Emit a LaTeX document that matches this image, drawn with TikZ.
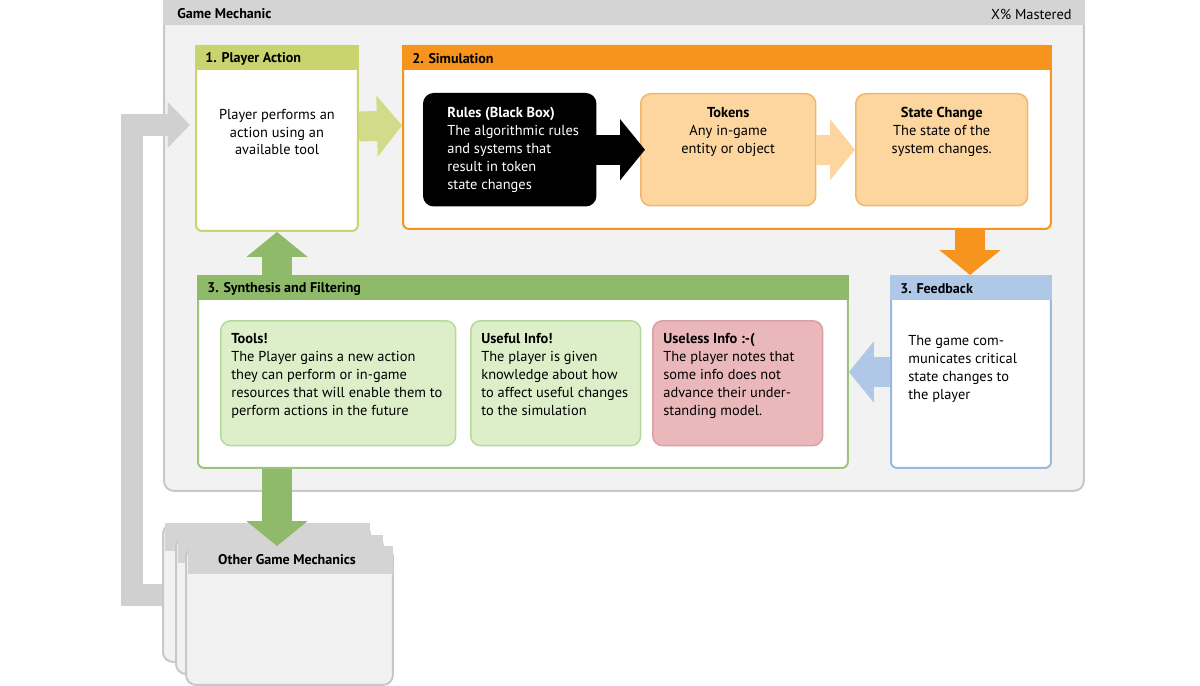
\documentclass[tikz,border=0pt]{standalone}
\usepackage{fontspec}
\setmainfont{PT Sans}
\usetikzlibrary{arrows.meta,positioning}
\definecolor{olive}{HTML}{C9D46F}
\definecolor{oliveArr}{HTML}{D2DB8A}
\definecolor{orng}{HTML}{F7941D}
\definecolor{tokfill}{HTML}{FCD59F}
\definecolor{tokline}{HTML}{F0B96A}
\definecolor{bluehd}{HTML}{B0C8E8}
\definecolor{blueln}{HTML}{9BB8E0}
\definecolor{grnhd}{HTML}{8FBA6A}
\definecolor{grnln}{HTML}{9CC47E}
\definecolor{ltgrn}{HTML}{DCEFC9}
\definecolor{ltgrnln}{HTML}{B5D99C}
\definecolor{pink}{HTML}{EAB8BB}
\definecolor{pinkln}{HTML}{D9A0A5}
\definecolor{gryhd}{HTML}{D4D4D4}
\definecolor{grybg}{HTML}{F2F2F2}
\definecolor{gryln}{HTML}{C8C8C8}
\definecolor{grylp}{HTML}{D0D0D0}
\newcommand{\titlebar}[3]{%
  \fill[#2] (#1.north west) rectangle ([yshift=-0.5cm]#1.north east);
  \node[anchor=west,font=\fontsize{8}{9}\selectfont\bfseries] at ([xshift=0.2cm,yshift=-0.27cm]#1.north west) {#3};}
\begin{document}
\begin{tikzpicture}[x=0.02cm,y=-0.02cm,
  every node/.style={inner sep=0pt,font=\fontsize{8.2}{10.2}\selectfont},
  panel/.style={draw,line width=0.04cm,fill=white,rounded corners=0.12cm,anchor=north west,minimum height=3.84cm},
  card/.style={draw,line width=0.03cm,rounded corners=0.2cm,anchor=north west,minimum width=#1,minimum height=2.24cm},
  info/.style={card=3.4cm,minimum height=2.5cm},
  fat/.style={line width=0.6cm,-{Triangle[width=1.2cm,length=0.5cm]}},
  txt/.style={align=left,anchor=north west}]
\useasboundingbox (0,0) rectangle (1200,686);
% outer frame
\node[draw=gryln,fill=grybg,line width=0.04cm,rounded corners=0.2cm,anchor=north west,minimum width=18.4cm,minimum height=9.9cm] (gm) at (163,-5) {};
\fill[gryhd] ([yshift=-0.1cm]gm.north west) rectangle ([yshift=-0.6cm]gm.north east);
\node[anchor=west,font=\fontsize{8}{9}\selectfont\bfseries] at (177,14) {Game Mechanic};
\node[anchor=east] at (1072,14) {X\% Mastered};
% other mechanics
\foreach \x/\y/\n in {162/523/c3,175/535/c2,185/546/c1}{
  \node[draw=gryln,fill=grybg,line width=0.04cm,rounded corners=0.2cm,anchor=north west,minimum width=4.14cm,minimum height=2.76cm] (\n) at (\x,\y) {};
  \fill[gryhd] ([xshift=0.05cm]\n.north west) rectangle ([yshift=-0.55cm,xshift=-0.02cm]\n.north east);}
\node[font=\fontsize{8}{9}\selectfont\bfseries] at (287,560) {Other Game Mechanics};
% loop back
\draw[grylp,line width=0.44cm,-{Triangle[width=0.9cm,length=0.45cm]}] ([yshift=-0.05cm]c3.west) -- ++(-30,0) |- (190,125);
% panels
\node[panel,draw=olive,minimum width=3.24cm,minimum height=3.7cm] (act) at (195,45) {};
\titlebar{act}{olive}{1. Player Action}
\node[align=center] at (277,132) {Player performs an\\action using an\\available tool};
\node[panel,draw=orng,minimum width=12.96cm,minimum height=3.66cm] (sim) at (402,45) {};
\titlebar{sim}{orng}{2. Simulation}
\node[panel,draw=grnln,minimum width=13cm] (syn) at (197,275) {};
\titlebar{syn}{grnhd}{3. Synthesis and Filtering}
\node[panel,draw=blueln,minimum width=3.2cm] (fb) at (890,275) {};
\titlebar{fb}{bluehd}{3. Feedback}
\node[txt] at (908,335) {The game com-\\municates critical\\state changes to\\the player};
% simulation cards
\node[card=3.44cm,fill=black,draw=black] (rules) at (423,93) {};
\node[card=3.5cm,fill=tokfill,draw=tokline] (tok) at (640,93) {};
\node[card=3.44cm,fill=tokfill,draw=tokline] (stc) at (855,93) {};
\node[txt,text=white] at (447,107) {\textbf{Rules (Black Box)}\\The algorithmic rules\\and systems that\\result in token\\state changes};
\node[align=center,anchor=north] at (tok.north) [yshift=-0.28cm] {\textbf{Tokens}\\Any in-game\\entity or object};
\node[align=center,anchor=north] at (stc.north) [yshift=-0.28cm] {\textbf{State Change}\\The state of the\\system changes.};
% filtering cards
\node[info,minimum width=4.7cm,fill=ltgrn,draw=ltgrnln] (tools) at (220,320) {};
\node[info,fill=ltgrn,draw=ltgrnln] (useful) at (470,320) {};
\node[info,fill=pink,draw=pinkln] (useless) at (652,320) {};
\node[txt] at (231,333) {\textbf{Tools!}\\The Player gains a new action\\they can perform or in-game\\resources that will enable them to\\perform actions in the future};
\node[txt] at (481,333) {\textbf{Useful Info!}\\The player is given\\knowledge about how\\to affect useful changes\\to the simulation};
\node[txt] at (663,333) {\textbf{Useless Info :-(}\\The player notes that\\some info does not\\advance their under-\\standing model.};
% arrows
\draw[fat,oliveArr] ([yshift=0.24cm]act.east) -- ([yshift=0.24cm]sim.west);
\draw[fat,black,shorten >=-0.1cm] (rules.east) -- (tok.west);
\draw[fat,tokfill] (tok.east) -- (stc.west);
\draw[fat,orng] (sim.south -| 970,0) -- (fb.north -| 970,0);
\draw[fat,bluehd] (fb.west) -- (syn.east);
\draw[fat,grnhd] (syn.north -| 277,0) -- (act.south -| 277,0);
\draw[fat,grnhd] (syn.south -| 277,0) -- (c1.north -| 277,0);
\end{tikzpicture}
\end{document}
